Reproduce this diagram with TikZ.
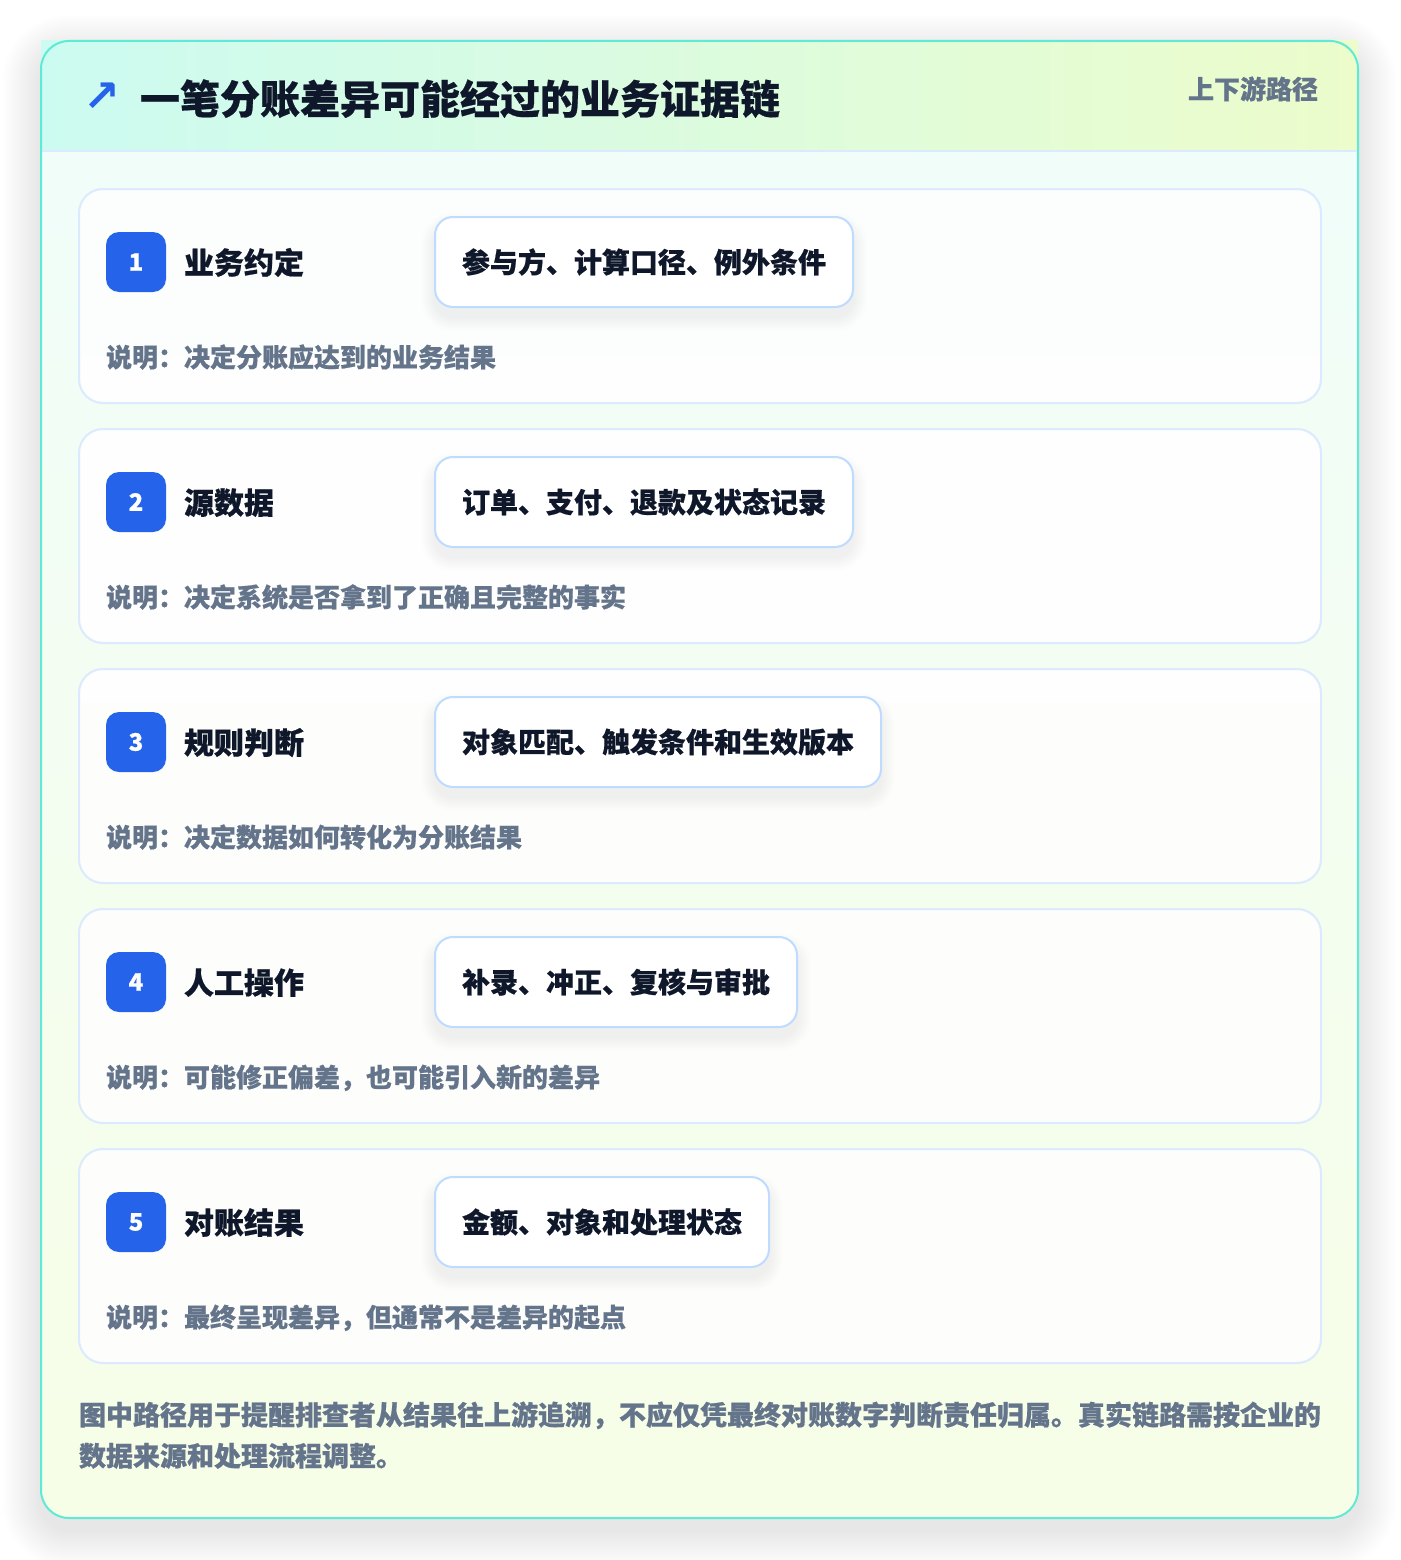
\documentclass[tikz,border=0pt]{standalone}
\usepackage{fontspec}
\setmainfont{Noto Sans CJK SC}[BoldFeatures={FakeBold=0.6}]
\newfontfamily\symfont{DejaVu Sans}
\definecolor{cteal}{HTML}{5EEAD4}
\definecolor{hdrL}{HTML}{CCFBF1}
\definecolor{hdrR}{HTML}{ECFCCB}
\definecolor{bodytop}{HTML}{F0FDFA}
\definecolor{bodybot}{HTML}{F7FEE7}
\definecolor{sepline}{HTML}{DBEAFE}
\definecolor{cardline}{HTML}{DBEAFE}
\definecolor{pillline}{HTML}{BFDBFE}
\definecolor{cblue}{HTML}{2563EB}
\definecolor{ink}{HTML}{0F172A}
\definecolor{muted}{HTML}{64748B}
\pgfdeclarelayer{pillshadow}
\pgfdeclarelayer{pilltop}
\pgfsetlayers{main,pillshadow,pilltop}
\tikzset{
  cardbox/.style={draw=cardline, line width=2pt, fill=white, fill opacity=0.85,
    rounded corners=24pt, minimum width=1242pt, minimum height=214pt, anchor=north west},
  badge/.style={fill=cblue, rounded corners=13pt, minimum size=60pt, text=white,
    font=\bfseries\fontsize{24}{28}\selectfont, anchor=center},
  steplabel/.style={anchor=base west, text=ink, font=\bfseries\fontsize{30}{36}\selectfont},
  pill/.style={draw=pillline, line width=2pt, fill=white, rounded corners=18pt,
    minimum height=90pt, inner xsep=27pt, anchor=west, text=ink,
    font=\bfseries\fontsize{28}{34}\selectfont},
  desc/.style={anchor=base west, text=muted, font=\bfseries\fontsize{26}{32}\selectfont},
}
\begin{document}
\begin{tikzpicture}[x=1pt,y=-1pt, every node/.append style={inner sep=0pt, outer sep=0pt}]
\useasboundingbox (0,0) rectangle (1400,1560);
\fill[white] (0,0) rectangle (1400,1560);
% outer soft shadow
\foreach \i in {1,...,24}{
  \pgfmathsetmacro\rr{28+\i*1.6}
  \fill[black, opacity=0.0042, rounded corners=\rr pt]
    ({41-\i*1.6},{41-\i*1.6+12}) rectangle ({1358+\i*1.6},{1518+\i*1.6+12});
}
% card body
\shade[rounded corners=28pt, top color=bodytop, bottom color=bodybot] (41,41) rectangle (1358,1518);
% header band
\shade[left color=hdrL, right color=hdrR] (41,41) rectangle (1358,151);
\draw[sepline, line width=2pt] (42,151) -- (1357,151);
\draw[cteal, line width=2pt, rounded corners=28pt] (41,41) rectangle (1358,1518);
% header texts
\node[anchor=center, text=cblue, font=\symfont\bfseries\fontsize{44}{48}\selectfont] (icon) at (102,97) {↗};
\node[anchor=base west, text=ink, font=\bfseries\fontsize{40}{48}\selectfont] (title) at (140,114) {一笔分账差异可能经过的业务证据链};
\node[anchor=base east, text=muted, font=\bfseries\fontsize{26}{32}\selectfont] (tag) at (1318,99) {上下游路径};
% cards
\foreach \k/\lab/\pl/\ds in {
  1/业务约定/参与方、计算口径、例外条件/说明：决定分账应达到的业务结果,
  2/源数据/订单、支付、退款及状态记录/说明：决定系统是否拿到了正确且完整的事实,
  3/规则判断/对象匹配、触发条件和生效版本/说明：决定数据如何转化为分账结果,
  4/人工操作/补录、冲正、复核与审批/说明：可能修正偏差，也可能引入新的差异,
  5/对账结果/金额、对象和处理状态/说明：最终呈现差异，但通常不是差异的起点}{
  \pgfmathsetmacro\top{189+240*(\k-1)}
  \node[cardbox] (card\k) at (79,\top) {};
  \node[badge] (badge\k) at (136,\top+73) {\k};
  \node[steplabel] (label\k) at (184,\top+85) {\lab};
  \begin{pgfonlayer}{pilltop}
    \node[pill] (pill\k) at (435,\top+73) {\pl};
  \end{pgfonlayer}
  \begin{pgfonlayer}{pillshadow}
    \foreach \j in {1,...,14}{
      \pgfmathsetmacro\rj{18+\j}
      \fill[black, opacity=0.005, rounded corners=\rj pt]
        ([xshift=-\j pt, yshift={(\j-10)*1pt}]pill\k.north west) rectangle
        ([xshift=\j pt, yshift={(-\j-10)*1pt}]pill\k.south east);
    }
  \end{pgfonlayer}
  \node[desc] (desc\k) at (106,\top+178) {\ds};
}
% footnote
\node[desc, font=\bfseries\fontsize{27}{32}\selectfont] (foot1) at (79,1425) {图中路径用于提醒排查者从结果往上游追溯，不应仅凭最终对账数字判断责任归属。真实链路需按企业的};
\node[desc, font=\bfseries\fontsize{27}{32}\selectfont] (foot2) at (79,1466) {数据来源和处理流程调整。};
\end{tikzpicture}
\end{document}
